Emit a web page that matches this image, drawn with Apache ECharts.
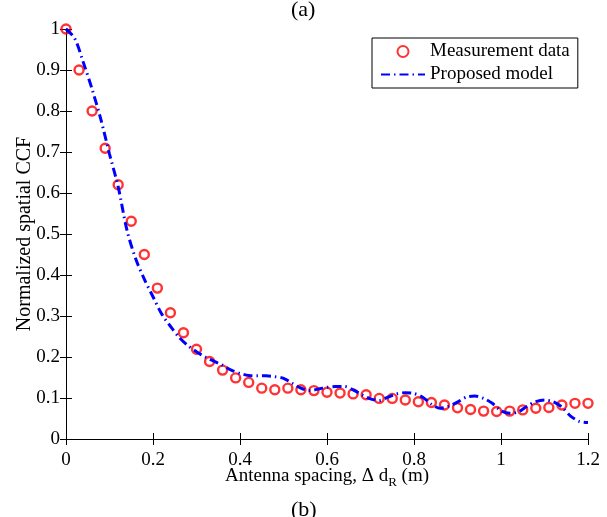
<!doctype html>
<html>
    <head>
        <meta charset="utf-8">
        <title>Normalized spatial CCF</title>
        <style>
            html, body { margin: 0; padding: 0; background: #fff; }
            #main { width: 607px; height: 517px; }
        </style>
    </head>
    <body>
        <div id="main"></div>
        <script src="https://cdn.jsdelivr.net/npm/echarts@6/dist/echarts.min.js"></script>
        <script>

            // measurement points, every 0.03 m
            var measX = [0, 0.03, 0.06, 0.09, 0.12, 0.15, 0.18, 0.21, 0.24, 0.27,
                         0.30, 0.33, 0.36, 0.39, 0.42, 0.45, 0.48, 0.51, 0.54, 0.57,
                         0.60, 0.63, 0.66, 0.69, 0.72, 0.75, 0.78, 0.81, 0.84, 0.87,
                         0.90, 0.93, 0.96, 0.99, 1.02, 1.05, 1.08, 1.11, 1.14, 1.17, 1.20];
            var measY = [1.0, 0.90, 0.80, 0.709, 0.62, 0.531, 0.45, 0.368, 0.308, 0.259,
                         0.219, 0.189, 0.168, 0.149, 0.138, 0.124, 0.120, 0.124, 0.120, 0.118,
                         0.114, 0.112, 0.110, 0.108, 0.099, 0.099, 0.095, 0.091, 0.089, 0.083,
                         0.076, 0.072, 0.068, 0.067, 0.068, 0.071, 0.075, 0.077, 0.083, 0.087, 0.087];

            // proposed model curve, read every 0.02 m
            var modelX = [0, 0.02, 0.04, 0.06, 0.08, 0.10, 0.12, 0.14, 0.16, 0.18,
                          0.20, 0.22, 0.24, 0.26, 0.28, 0.30, 0.32, 0.34, 0.36, 0.38,
                          0.40, 0.42, 0.44, 0.46, 0.48, 0.50, 0.52, 0.54, 0.56, 0.58,
                          0.60, 0.62, 0.64, 0.66, 0.68, 0.70, 0.72, 0.74, 0.76, 0.78,
                          0.80, 0.82, 0.84, 0.86, 0.88, 0.90, 0.92, 0.94, 0.96, 0.98,
                          1.00, 1.02, 1.04, 1.06, 1.08, 1.10, 1.12, 1.14, 1.16, 1.18, 1.20];
            var modelY = [1.0, 0.977, 0.918, 0.853, 0.78, 0.695, 0.615, 0.51, 0.44, 0.39,
                          0.347, 0.305, 0.275, 0.248, 0.228, 0.213, 0.200, 0.19, 0.18, 0.168,
                          0.16, 0.155, 0.154, 0.154, 0.152, 0.148, 0.136, 0.124, 0.118, 0.122,
                          0.126, 0.128, 0.128, 0.12, 0.108, 0.098, 0.094, 0.102, 0.11, 0.113,
                          0.111, 0.102, 0.085, 0.075, 0.08, 0.09, 0.102, 0.105, 0.099, 0.087,
                          0.069, 0.063, 0.066, 0.08, 0.091, 0.095, 0.091, 0.078, 0.056, 0.043, 0.040];

            function pairs(xs, ys) {
                return xs.map(function (x, i) { return [x, ys[i]]; });
            }

            var serif = 'Liberation Serif';
            var tickFont = { fontFamily: serif, fontSize: 19, color: '#000' };

            var myChart = echarts.init(document.getElementById('main'));

            var option = {
                animation: false,
                backgroundColor: '#fff',
                title: [
                    { text: '(a)', left: 286, top: -6, textStyle: { fontFamily: serif, fontSize: 22, fontWeight: 'normal', color: '#000' } },
                    { text: '(b)', left: 286, top: 494, textStyle: { fontFamily: serif, fontSize: 22, fontWeight: 'normal', color: '#000' } }
                ],
                grid: { left: 66, right: 19, top: 29, bottom: 78, outerBoundsMode: 'none' },
                legend: {
                    orient: 'vertical',
                    left: 372,
                    top: 38,
                    padding: [4, 8, 4, 8],
                    itemGap: 4,
                    itemWidth: 44,
                    itemHeight: 11,
                    borderColor: '#000',
                    borderWidth: 1,
                    backgroundColor: '#fff',
                    textStyle: { fontFamily: serif, fontSize: 19, color: '#000' },
                    data: [
                        { name: 'Measurement data' },
                        { name: 'Proposed model', itemStyle: { color: 'rgba(0,0,0,0)', borderColor: 'rgba(0,0,0,0)', borderWidth: 0 } }
                    ]
                },
                xAxis: [
                    {
                        type: 'value', min: 0, max: 1.2, interval: 0.2,
                        name: '{a|Antenna spacing, Δ d}{s|R}{a| (m)}',
                        nameLocation: 'middle', nameGap: 25, nameMoveOverlap: false,
                        nameTextStyle: {
                            rich: {
                                a: { fontFamily: serif, fontSize: 19, color: '#000' },
                                s: { fontFamily: serif, fontSize: 13, color: '#000', padding: [12, 0, 0, 0] }
                            }
                        },
                        axisLine: { lineStyle: { color: '#000', width: 1 } },
                        axisTick: { inside: true, length: 6, lineStyle: { color: '#000' } },
                        axisLabel: Object.assign({ margin: 12 }, tickFont),
                        splitLine: { show: false }
                    },
                    {
                        type: 'value', min: 0, max: 1.2, interval: 0.2, position: 'top',
                        axisLine: { lineStyle: { color: '#000', width: 1 } },
                        axisTick: { inside: true, length: 6, lineStyle: { color: '#000' } },
                        axisLabel: { show: false },
                        splitLine: { show: false }
                    }
                ],
                yAxis: [
                    {
                        type: 'value', min: 0, max: 1, interval: 0.1,
                        name: 'Normalized spatial CCF',
                        nameLocation: 'middle', nameGap: 31, nameMoveOverlap: false,
                        nameTextStyle: { fontFamily: serif, fontSize: 20, color: '#000' },
                        axisLine: { show: true, lineStyle: { color: '#000', width: 1 } },
                        axisTick: { show: true, inside: true, length: 6, lineStyle: { color: '#000' } },
                        axisLabel: Object.assign({ margin: 6 }, tickFont),
                        splitLine: { show: false }
                    },
                    {
                        type: 'value', min: 0, max: 1, interval: 0.1, position: 'right',
                        axisLine: { show: true, lineStyle: { color: '#000', width: 1 } },
                        axisTick: { show: true, inside: true, length: 6, lineStyle: { color: '#000' } },
                        axisLabel: { show: false },
                        splitLine: { show: false }
                    }
                ],
                series: [
                    {
                        name: 'Measurement data',
                        type: 'scatter',
                        symbol: 'circle',
                        symbolSize: 9,
                        itemStyle: { color: 'rgba(255,255,255,0)', borderColor: '#ff0000', borderWidth: 2.4 },
                        data: pairs(measX, measY),
                        z: 2
                    },
                    {
                        name: 'Proposed model',
                        type: 'line',
                        symbol: 'none',
                        smooth: 0.3,
                        lineStyle: { color: '#0000ff', width: 3, type: [9, 4, 1.5, 4] },
                        itemStyle: { color: '#0000ff' },
                        data: pairs(modelX, modelY),
                        z: 3
                    }
                ]
            };

            myChart.setOption(option);

        </script>
    </body>
</html>
